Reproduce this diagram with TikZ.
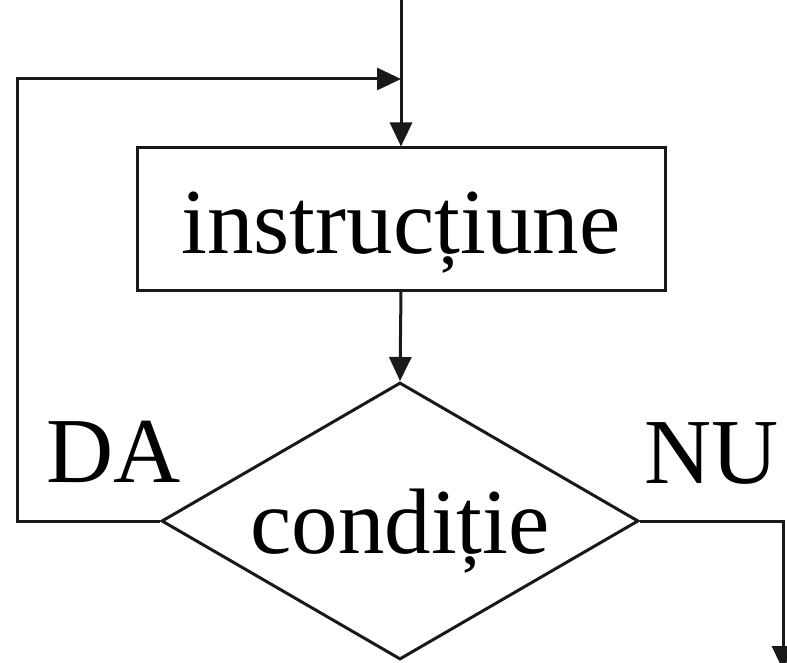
\documentclass[tikz,border=0pt]{standalone}
\usepackage{fontspec}
\setmainfont{Liberation Serif}
\usetikzlibrary{shapes.geometric,arrows.meta}
\begin{document}
\begin{tikzpicture}[x=1pt,y=-1pt,
  line/.style={line width=3pt,draw=black!90},
  arr/.style={line,-{Triangle[length=24pt,width=22pt]}},
  bigtext/.style={font=\fontsize{93}{100}\selectfont},
  boxnode/.style={line,rectangle,inner sep=0pt,minimum width=528pt,minimum height=142pt,bigtext,text height=80pt,text depth=10pt},
  decnode/.style={line,diamond,inner sep=0pt,minimum width=477pt,minimum height=277pt,aspect=1.72,bigtext,text height=74pt,text depth=10pt},
  lbl/.style={bigtext,inner sep=0pt,anchor=base}]
\useasboundingbox (0,0) rectangle (787,663);
\node[boxnode] (b) at (401,219) {instrucțiune};
\node[decnode] (d) at (400,521) {condiție};
\coordinate (top) at (401,0);
\coordinate (j) at (401,79);
\coordinate (L) at (17,521);
\coordinate (R) at (783,670);
\draw[line] (top) -- (j);
\draw[arr] (j) -- (b.north);
\draw[arr] (b.south) -- (d.north);
\draw[arr] (d.west) -- (L) |- (j);
\draw[arr] (d.east) -| (R);
\node[lbl] (da) at (114,482) {DA};
\node[lbl] (nu) at (712,483) {NU};
\end{tikzpicture}
\end{document}
